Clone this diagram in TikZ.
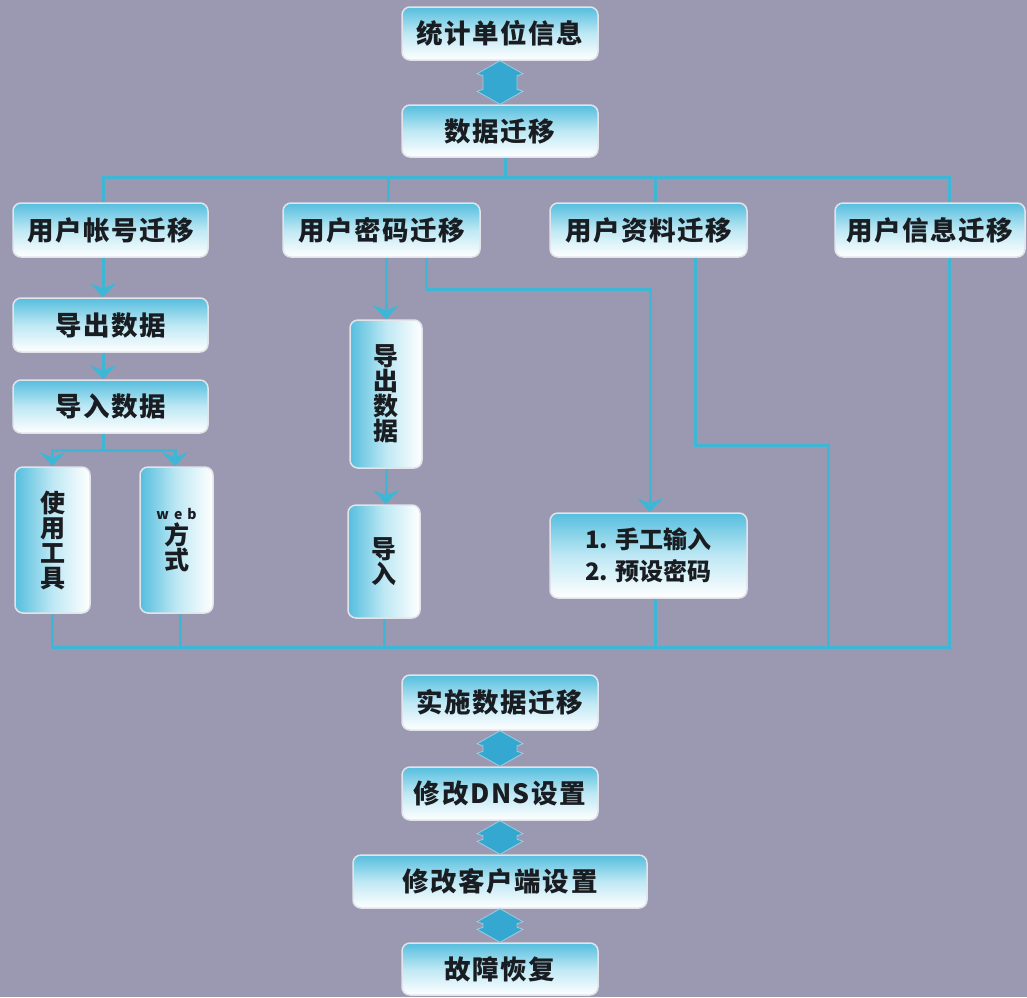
\documentclass[tikz,border=0pt]{standalone}
\usepackage{fontspec}
\newfontfamily\cjk{Noto Sans CJK SC}[LetterSpace=6]
\newfontfamily\cjkv{Noto Sans CJK SC}
\usetikzlibrary{calc,arrows.meta}
\definecolor{bg}{RGB}{155,153,178}
\definecolor{lnc}{RGB}{62,182,214}
\definecolor{boxtop}{RGB}{85,190,222}
\definecolor{boxmid}{RGB}{190,232,244}
\definecolor{boxedge}{RGB}{226,228,234}
\definecolor{dac}{RGB}{52,168,208}
\definecolor{txt}{RGB}{25,28,32}
\newcommand\dblarr[2]{\path[fill=dac,draw=boxedge!60!dac,line width=0.8pt]
  (#1.south) -- ++(23,13) -- ++(-6,2) -- ($(#2.north)+(17,-15)$) -- ++(6,2) -- (#2.north)
  -- ++(-23,-13) -- ++(6,-2) -- ($(#1.south)+(-17,15)$) -- ++(-6,-2) -- cycle;}
\begin{document}
\begin{tikzpicture}[x=1pt,y=-1pt,
  hbox/.style={draw=boxedge,line width=1.5pt,rounded corners=8pt,
    top color=boxtop,bottom color=white,middle color=boxmid,text=txt,
    font={\cjk\bfseries\fontsize{26.5}{28}\selectfont},inner sep=0pt,align=center},
  vbox/.style={draw=boxedge,line width=1.5pt,rounded corners=8pt,
    left color=boxtop,right color=white,middle color=boxmid,text=txt,
    font={\cjkv\bfseries\fontsize{25}{25}\selectfont},inner sep=0pt,align=center},
  ln/.style={draw=lnc,line width=3pt},
  arr/.style={ln,-{Stealth[length=14pt,width=26pt,inset=5pt]}}]
\fill[bg] (0,0) rectangle (1027,997);
\useasboundingbox (0,0) rectangle (1027,997);
% top chain
\node[hbox,minimum width=196pt,minimum height=53pt] (top) at (500,33.5) {统计单位信息};
\node[hbox,minimum width=196pt,minimum height=52pt] (mig) at (500,131) {数据迁移};
% row
\node[hbox,minimum width=195pt,minimum height=54pt] (acc) at (110.5,230) {用户帐号迁移};
\node[hbox,minimum width=197pt,minimum height=54pt] (pwd) at (381.5,230) {用户密码迁移};
\node[hbox,minimum width=197pt,minimum height=54pt] (prof) at (648.5,230) {用户资料迁移};
\node[hbox,minimum width=190pt,minimum height=54pt] (info) at (930,230) {用户信息迁移};
% left column
\node[hbox,minimum width=195pt,minimum height=54pt] (exp1) at (110.5,325) {导出数据};
\node[hbox,minimum width=195pt,minimum height=53pt] (imp1) at (110.5,406.5) {导入数据};
\node[vbox,minimum width=75pt,minimum height=146pt] (tool) at (52.5,540) {使\\用\\工\\具};
\node[vbox,minimum width=73pt,minimum height=146pt] (web) at (176.5,540)
  {{\fontsize{14}{18}\selectfont w\hspace{5pt}e\hspace{5pt}b}\\方\\式};
% middle column
\node[vbox,minimum width=72pt,minimum height=148pt] (exp2) at (386,394) {导\\出\\数\\据};
\node[vbox,minimum width=72pt,minimum height=113pt] (imp2) at (384,561.5) {导\\入};
\node[hbox,minimum width=197pt,minimum height=85pt,
  font={\cjkv\bfseries\fontsize{24}{32}\selectfont}] (manual) at (648.5,555.5) {1. 手工输入\\2. 预设密码};
% bottom chain
\node[hbox,minimum width=196pt,minimum height=55pt] (impl) at (500,702.5) {实施数据迁移};
\node[hbox,minimum width=196pt,minimum height=53pt] (dns) at (500,793.5) {修改DNS设置};
\node[hbox,minimum width=294pt,minimum height=53pt] (client) at (500,881.5) {修改客户端设置};
\node[hbox,minimum width=196pt,minimum height=52pt] (fault) at (500,969) {故障恢复};
% double arrows
\dblarr{top}{mig}
\dblarr{impl}{dns}
\dblarr{dns}{client}
\dblarr{client}{fault}
% top bus
\draw[ln] ($(mig.south)+(5,0)$) -- ++(0,21);
\draw[ln] ($(acc.north)+(-7.5,0)$) -- ++(0,-25) -| ($(info.north)+(19,0)$);
\draw[ln] ($(pwd.north)+(6.5,0)$) -- ++(0,-25);
\draw[ln] ($(prof.north)+(6.5,0)$) -- ++(0,-25);
% left column
\draw[arr] ($(acc.south)+(-7.5,0)$) -- ($(exp1.north)+(-7.5,0)$);
\draw[arr] ($(exp1.south)+(-7.5,0)$) -- ($(imp1.north)+(-7.5,0)$);
\draw[ln] ($(imp1.south)+(-7.5,0)$) -- ++(0,17) coordinate (split);
\draw[arr] (split) -| (tool.north);
\draw[arr] (split) -| ($(web.north)+(-1.5,0)$);
% middle column
\draw[arr] (pwd.south -| exp2.north) -- (exp2.north);
\draw[arr] (exp2.south) -- (exp2.south |- imp2.north);
\draw[arr] ($(pwd.south)+(45,0)$) -- ++(0,32) -| ($(manual.north)+(1.5,0)$);
% right branches
\coordinate (bend) at (828,445);
\coordinate (busL) at (52.5,647);
\draw[ln] ($(prof.south)+(46.5,0)$) |- (bend) -- (bend |- busL);
% bottom bus
\draw[ln] (tool.south) -- (tool.south |- busL) -| ($(info.south)+(19,0)$);
\draw[ln] ($(web.south)+(3.5,0)$) -- ++(0,34);
\draw[ln] (imp2.south) -- ++(0,29);
\draw[ln] ($(manual.south)+(6.5,0)$) -- ++(0,49);
\end{tikzpicture}
\end{document}
